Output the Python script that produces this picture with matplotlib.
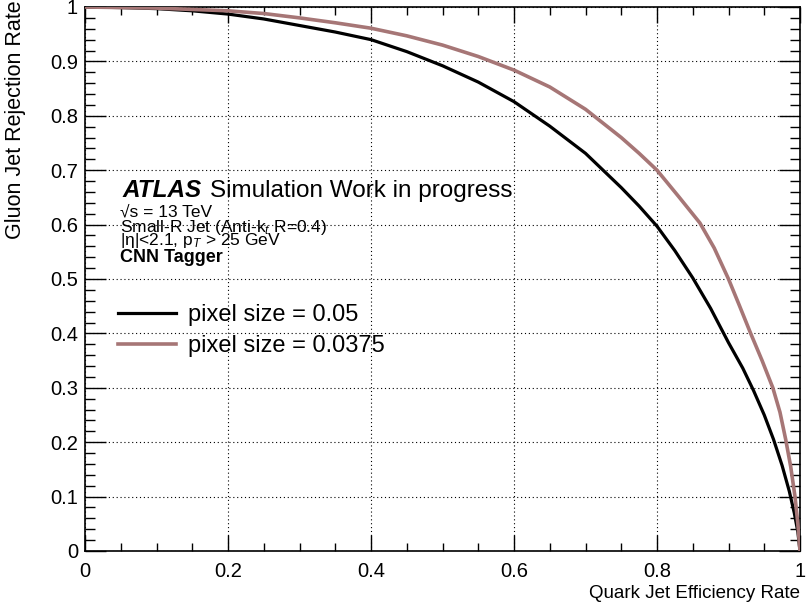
import numpy as np
import matplotlib
matplotlib.use("Agg")
import matplotlib.pyplot as plt
from matplotlib.ticker import MultipleLocator, FuncFormatter

plt.rcParams['font.family'] = ['Liberation Sans', 'DejaVu Sans']
plt.rcParams['mathtext.fontset'] = 'custom'
plt.rcParams['mathtext.rm'] = 'Liberation Sans'
plt.rcParams['mathtext.it'] = 'Liberation Sans:italic'
plt.rcParams['mathtext.bf'] = 'Liberation Sans:bold'

# ROC curves: quark efficiency vs gluon rejection
eff_005 = [0.0, 0.05, 0.1, 0.15, 0.2, 0.25, 0.3, 0.35, 0.4, 0.45, 0.5, 0.55,
           0.6, 0.65, 0.7, 0.75, 0.775, 0.8, 0.825, 0.85, 0.875, 0.9, 0.92,
           0.935, 0.95, 0.963, 0.975, 0.985, 0.992, 0.997, 1.0]
rej_005 = [1.0, 0.999, 0.997, 0.993, 0.987, 0.978, 0.966, 0.954, 0.940, 0.918,
           0.892, 0.862, 0.826, 0.781, 0.731, 0.668, 0.634, 0.597, 0.552,
           0.502, 0.446, 0.383, 0.336, 0.295, 0.25, 0.205, 0.157, 0.11, 0.07,
           0.035, 0.0]

eff_00375 = [0.0, 0.1, 0.2, 0.25, 0.3, 0.35, 0.4, 0.45, 0.5, 0.55, 0.6, 0.65,
             0.7, 0.75, 0.775, 0.8, 0.83, 0.86, 0.88, 0.9, 0.915, 0.931, 0.947,
             0.962, 0.972, 0.98, 0.987, 0.993, 0.997, 1.0]
rej_00375 = [1.0, 0.998, 0.993, 0.988, 0.980, 0.971, 0.961, 0.947, 0.930,
             0.909, 0.884, 0.853, 0.812, 0.760, 0.731, 0.700, 0.652, 0.603,
             0.557, 0.500, 0.452, 0.400, 0.350, 0.300, 0.255, 0.205, 0.155,
             0.100, 0.050, 0.0]

labels = ["pixel size = 0.05", "pixel size = 0.0375"]
colors = ["black", "#a67676"]

fig = plt.figure(figsize=(8.08, 6.07), dpi=100)
ax = fig.add_axes([85/808, 56/607, 715/808, 544/607])

ax.plot(eff_005, rej_005, color=colors[0], lw=2.3, label=labels[0], zorder=3)
ax.plot(eff_00375, rej_00375, color=colors[1], lw=2.6, label=labels[1], zorder=4)

ax.set_xlim(0, 1)
ax.set_ylim(0, 1)
ax.xaxis.set_major_locator(MultipleLocator(0.2))
ax.xaxis.set_minor_locator(MultipleLocator(0.05))
ax.yaxis.set_major_locator(MultipleLocator(0.1))
ax.yaxis.set_minor_locator(MultipleLocator(0.02))
ax.xaxis.set_major_formatter(FuncFormatter(lambda v, p: f"{v:g}"))
ax.yaxis.set_major_formatter(FuncFormatter(lambda v, p: f"{v:g}"))

ax.tick_params(axis='both', which='both', direction='in', top=True, right=True,
               labelsize=14.5, width=1.0)
ax.tick_params(axis='x', which='major', length=11.5, pad=8)
ax.tick_params(axis='x', which='minor', length=5.8)
ax.tick_params(axis='y', which='major', length=15, pad=5)
ax.tick_params(axis='y', which='minor', length=7.5)
for s in ax.spines.values():
    s.set_linewidth(1.2)

ax.grid(True, which='major', color='black', lw=0.8, linestyle=(0, (1, 2.5)))
ax.set_axisbelow(True)

ax.set_xlabel("Quark Jet Efficiency Rate", fontsize=13.5, loc='right', labelpad=3)
ax.set_ylabel("Gluon Jet Rejection Rate", fontsize=15.5, loc='top')
ax.yaxis.set_label_coords(-0.082, 1.013)

ax.text(0.052, 0.651, "ATLAS", transform=ax.transAxes, fontsize=17.5,
        fontweight='bold', fontstyle='italic', va='baseline')
ax.text(0.175, 0.651, "Simulation Work in progress", transform=ax.transAxes,
        fontsize=17.5, va='baseline')
ax.text(0.049, 0.6145, "\u221as = 13 TeV", transform=ax.transAxes,
        fontsize=12.5, va='baseline')
ax.text(0.049, 0.587, r"Small-R Jet (Anti-k$_{t}$ R=0.4)", transform=ax.transAxes,
        fontsize=12.5, va='baseline')
ax.text(0.049, 0.5625, r"|$\mathrm{\eta}$|<2.1, p$_{T}$ > 25 GeV", transform=ax.transAxes,
        fontsize=12.5, va='baseline')
ax.text(0.049, 0.532, "CNN Tagger", transform=ax.transAxes, fontsize=13,
        fontweight='bold', va='baseline')

ax.legend(loc='center left', bbox_to_anchor=(0.046, 0.405), frameon=False,
          fontsize=17, handlelength=2.45, handletextpad=0.5, borderpad=0,
          borderaxespad=0, labelspacing=0.4)

fig.savefig("out.png", dpi=100)
